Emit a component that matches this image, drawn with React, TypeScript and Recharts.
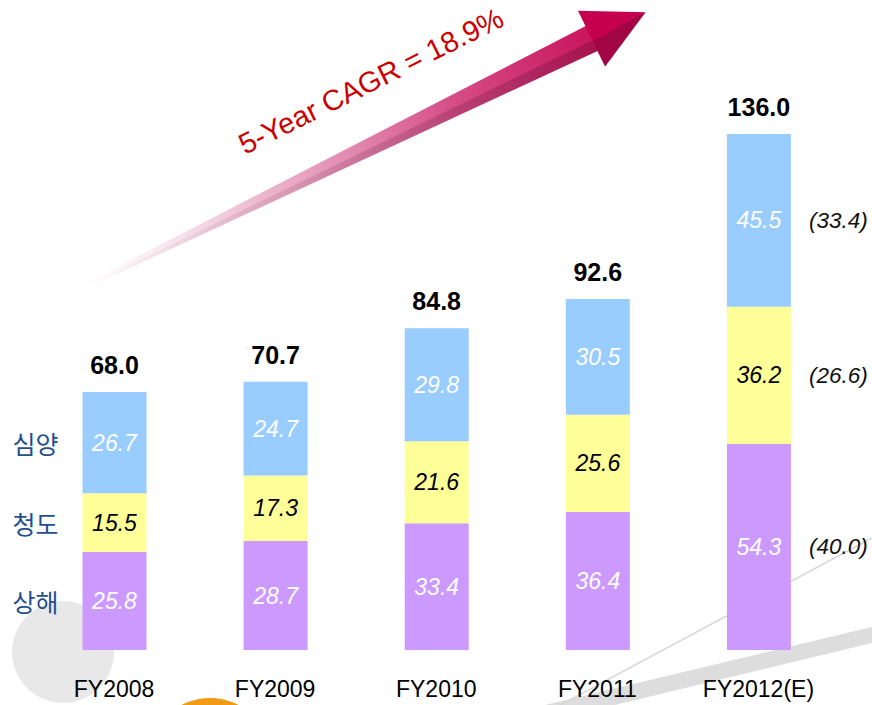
import { BarChart, Bar, XAxis, YAxis, LabelList } from "recharts";

const categories = ["FY2008", "FY2009", "FY2010", "FY2011", "FY2012(E)"];
const shanghai = [25.8, 28.7, 33.4, 36.4, 54.3];
const qingdao = [15.5, 17.3, 21.6, 25.6, 36.2];
const shenyang = [26.7, 24.7, 29.8, 30.5, 45.5];
const totals = [68.0, 70.7, 84.8, 92.6, 136.0];

const seriesNames = { shanghai: "상해", qingdao: "청도", shenyang: "심양" };
const shares = { shanghai: "(40.0)", qingdao: "(26.6)", shenyang: "(33.4)" };

const data = categories.map((name, i) => ({
  name,
  shanghai: shanghai[i],
  qingdao: qingdao[i],
  shenyang: shenyang[i],
  total: totals[i],
}));

const FONT = '"Liberation Sans", Arial, sans-serif';
const KFONT = '"Noto Sans CJK KR", "Noto Sans", sans-serif';

const fmt = (v: any) => Number(v).toFixed(1);

// series name on the left of the first bar, share on the right of the last one
const sideLabel = (name: string, share: string) => (props: any) => {
  const vb = props.viewBox ?? props;
  const { x, y, width, height } = vb;
  if (props.index === 0) {
    return (
      <text x={x - 47} y={y + height / 2} textAnchor="middle" dominantBaseline="central"
        fill="#23508F" fontSize={25} fontFamily={KFONT}>
        {name}
      </text>
    );
  }
  if (props.index === categories.length - 1) {
    return (
      <text x={x + width + 18} y={y + height / 2} textAnchor="start" dominantBaseline="central"
        fill="#111" fontSize={22.5} fontStyle="italic" fontFamily={FONT}>
        {share}
      </text>
    );
  }
  return null;
};

const XTick = (props: any) => {
  const { x, y, payload } = props;
  return (
    <text x={x} y={y + 39} textAnchor="middle" fill="#000" fontSize={23} fontFamily={FONT}>
      {payload.value}
    </text>
  );
};

const Background = () => (
  <svg width={872} height={705} style={{ position: "absolute", left: 0, top: 0 }}>
    <defs>
      <linearGradient id="arrowGrad" gradientUnits="userSpaceOnUse" x1={0} y1={0} x2={620} y2={0}>
        <stop offset="0" stopColor="#f3d3e0" stopOpacity={0} />
        <stop offset="0.3" stopColor="#e9b0c8" stopOpacity={0.85} />
        <stop offset="0.65" stopColor="#d6508a" />
        <stop offset="1" stopColor="#c4004f" />
      </linearGradient>
      <linearGradient id="shadeGrad" gradientUnits="userSpaceOnUse" x1={0} y1={0} x2={620} y2={0}>
        <stop offset="0" stopColor="#5a1030" stopOpacity={0} />
        <stop offset="1" stopColor="#5a1030" stopOpacity={0.35} />
      </linearGradient>
    </defs>
    <circle cx={63} cy={652} r={51} fill="#e8e8e8" />
    <circle cx={210} cy={760} r={62} fill="#f39a14" />
    <polygon points="545,705 872,627 872,643 615,705" fill="#dddddd" />
    <line x1={540} y1={716} x2={872} y2={538} stroke="#d6d6d6" strokeWidth={1.5} />
    <g transform="translate(86,284) rotate(-25.9)">
      <polygon points="0,-1 572,-14 572,14 0,4" fill="url(#arrowGrad)" />
      <polygon points="0,2 572,2 572,14 0,4" fill="url(#shadeGrad)" />
      <polygon points="562,-31 622,0 562,31" fill="#c4004f" />
      <polygon points="562,3 622,0 562,31" fill="#7a0a35" opacity={0.45} />
    </g>
    <text x={371} y={81} textAnchor="middle" dominantBaseline="central"
      transform="rotate(-26.5 371 81)" fill="#cc0000" fontSize={29} fontFamily={FONT}>
      5-Year CAGR = 18.9%
    </text>
  </svg>
);

const App = () => {
  return (
    <div style={{ position: "absolute", left: 0, top: 0, width: 872, height: 705, background: "#fff", overflow: "hidden" }}>
      <Background />
      <div style={{ position: "absolute", left: 0, top: 0 }}>
        <BarChart width={872} height={705} data={data}
          margin={{ top: 134, right: 33, bottom: 15, left: 33.5 }}>
          <XAxis dataKey="name" axisLine={false} tickLine={false} height={40} tick={<XTick />} interval={0} />
          <YAxis hide domain={[0, 136]} />
          <Bar dataKey="shanghai" stackId="a" fill="#cc99ff" barSize={64} isAnimationActive={false}>
            <LabelList dataKey="shanghai" position="center" formatter={fmt} fill="#ffffff"
              fontSize={23} fontStyle="italic" fontFamily={FONT} />
            <LabelList dataKey="shanghai" content={sideLabel(seriesNames.shanghai, shares.shanghai)} />
          </Bar>
          <Bar dataKey="qingdao" stackId="a" fill="#ffff99" barSize={64} isAnimationActive={false}>
            <LabelList dataKey="qingdao" position="center" formatter={fmt} fill="#000000"
              fontSize={23} fontStyle="italic" fontFamily={FONT} />
            <LabelList dataKey="qingdao" content={sideLabel(seriesNames.qingdao, shares.qingdao)} />
          </Bar>
          <Bar dataKey="shenyang" stackId="a" fill="#99ccff" barSize={64} isAnimationActive={false}>
            <LabelList dataKey="shenyang" position="center" formatter={fmt} fill="#ffffff"
              fontSize={23} fontStyle="italic" fontFamily={FONT} />
            <LabelList dataKey="shenyang" content={sideLabel(seriesNames.shenyang, shares.shenyang)} />
            <LabelList dataKey="total" position="top" offset={18} formatter={fmt} fill="#000000"
              fontSize={25} fontWeight="bold" fontFamily={FONT} />
          </Bar>
        </BarChart>
      </div>
    </div>
  );
};

export default App;
